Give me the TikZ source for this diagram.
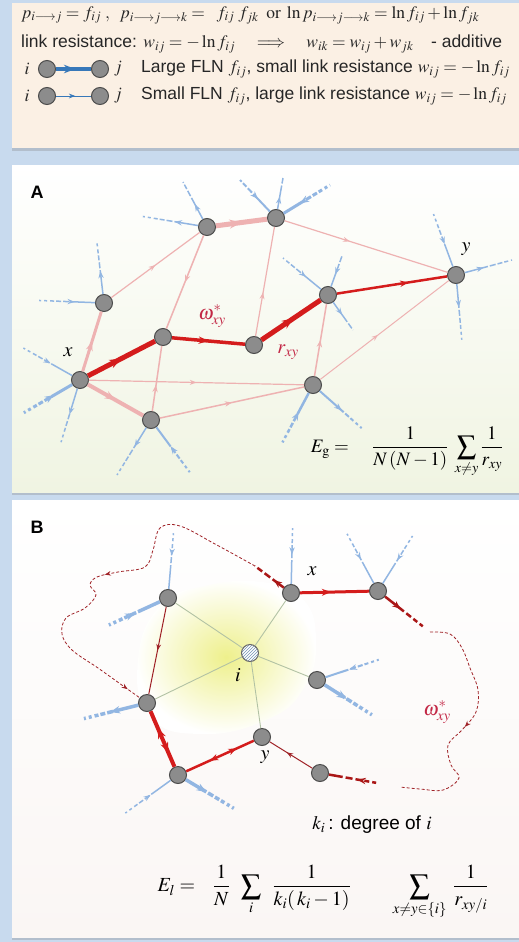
\documentclass[tikz,border=0pt]{standalone}
\usepackage{amsmath}
\usepackage{mathptmx}
\usepackage[no-math]{fontspec}
\setmainfont{Liberation Sans}
\usetikzlibrary{arrows.meta, decorations.markings, patterns, shadows}

\definecolor{bgblue}{RGB}{200,218,238}
\definecolor{peach}{RGB}{251,240,228}
\definecolor{pathred}{RGB}{212,28,28}
\definecolor{pinkedge}{RGB}{238,178,178}
\definecolor{stubblue}{RGB}{146,182,226}
\definecolor{darkred}{RGB}{160,35,40}
\definecolor{labelred}{RGB}{195,40,70}
\definecolor{spoke}{RGB}{178,194,164}
\definecolor{legblue}{RGB}{55,120,185}
\definecolor{blob}{RGB}{238,240,140}

\begin{document}
\begin{tikzpicture}[
      x=1pt, y=-1pt,
      area/.style={drop shadow={shadow xshift=0pt, shadow yshift=-2.5pt, opacity=.3}},
      vert/.style={circle, draw=black!70, fill=black!45, line width=1pt, minimum size=17pt, inner sep=0pt},
      hub/.style={circle, draw=black!60, line width=1pt, minimum size=17pt, inner sep=0pt, preaction={fill=white}, pattern=north east lines, pattern color=stubblue!80!black},
      lbl/.style={font=\fontsize{17.5}{19}\selectfont, inner sep=0pt, text=black!85},
      tag/.style={font=\fontsize{20}{22}\selectfont, inner sep=0pt},
      formula/.style={font=\fontsize{19}{21}\selectfont, inner sep=0pt},
      panel/.style={font=\bfseries\fontsize{18}{20}\selectfont},
      arr/.style={postaction={decorate, decoration={markings, mark=at position #1 with {\arrow{Stealth[length=5pt 1.4]}}}}},
      arr/.default=0.5,
      rarr/.style={postaction={decorate, decoration={markings, mark=at position #1 with {\arrowreversed{Stealth[length=5pt 1.4]}}}}},
      rarr/.default=0.5,
      link/.style={pinkedge, line width=#1},
      short/.style={stubblue, line width=#1, dash pattern=on 24pt off 2pt on 6pt off 2pt on 5pt off 2pt on 4pt off 3pt on 3pt off 3pt on 2pt off 40pt},
      fadeline/.style={line width=#1, dash pattern=on 14pt off 3pt on 7pt off 3pt on 6pt off 3pt on 5pt off 3pt on 4pt off 40pt},
      wavy/.style={darkred, line width=0.8pt, dash pattern=on 3pt off 2pt}
    ]

    \fill[bgblue] (0,0) rectangle (519,942);
    \path[area, fill=peach] (12,3) rectangle (519,148);
    \path[area, top color=white, bottom color={rgb,255:red,240;green,244;blue,226}] (12,165) rectangle (519,492);
    \path[area, top color=white, bottom color={rgb,255:red,250;green,246;blue,244}] (12,500) rectangle (519,937);

    % legend
    \node[lbl, anchor=west] (eq1) at (21,15) {$p_{i\longrightarrow j}=f_{ij}\;,\;\;p_{i\longrightarrow j\longrightarrow k}=\;\;f_{ij}\;f_{jk}\;\;\mathrm{or}\;\ln p_{i\longrightarrow j\longrightarrow k}=\ln f_{ij}+\ln f_{jk}$};
    \node[lbl, anchor=west] (eq2) at (21,44) {link resistance: $w_{ij}=-\ln f_{ij}\quad\Longrightarrow\quad w_{ik}=w_{ij}+w_{jk}$\quad - additive};
    \node[lbl] (li1) at (27,69) {$i$};
    \node[vert] (la1) at (47,69) {};
    \node[vert] (lb1) at (100,69) {};
    \node[lbl] (lj1) at (118,69) {$j$};
    \draw[legblue, line width=4.5pt, arr=0.55] (la1) -- (lb1);
    \node[lbl, anchor=west] (ltxt1) at (141,69) {Large FLN $f_{ij}$, small link resistance $w_{ij}=-\ln f_{ij}$};
    \node[lbl] (li2) at (27,96) {$i$};
    \node[vert] (la2) at (47,96) {};
    \node[vert] (lb2) at (100,96) {};
    \node[lbl] (lj2) at (118,96) {$j$};
    \draw[legblue, line width=1pt, arr=0.55] (la2) -- (lb2);
    \node[lbl, anchor=west] (ltxt2) at (141,96) {Small FLN $f_{ij}$, large link resistance $w_{ij}=-\ln f_{ij}$};

    % panel A
    \node[panel] (labA) at (37,192) {A};
    \node[vert] (xa) at (80,380) {};
    \node[vert] (ya) at (456,275) {};
    \node[vert] (a1) at (207,227) {};
    \node[vert] (a2) at (276,218) {};
    \node[vert] (a3) at (104,303) {};
    \node[vert] (a4) at (163,337) {};
    \node[vert] (a5) at (254,345) {};
    \node[vert] (a6) at (328,295) {};
    \node[vert] (a7) at (313,385) {};
    \node[vert] (a8) at (151,420) {};

    \draw[link=3, arr] (xa) -- (a3);
    \draw[link=1.2, arr] (a3) -- (a1);
    \draw[link=5, arr] (a1) -- (a2);
    \draw[link=1.2, arr=0.4] (a2) -- (ya);
    \draw[link=1.5, arr] (a1) -- (a4);
    \draw[link=1.5, arr=0.4] (a8) -- (a4);
    \draw[link=1.2, arr=0.4] (a5) -- (a2);
    \draw[link=1.2, arr] (xa) -- (a7);
    \draw[link=4, arr] (xa) -- (a8);
    \draw[link=1.5, arr] (a8) -- (a7);
    \draw[link=1.5, arr] (a7) -- (a6);
    \draw[link=1, arr=0.45] (a7) -- (ya);

    \draw[pathred, line width=5pt, arr=0.5] (xa) -- (a4);
    \draw[pathred, line width=3.5pt, arr=0.5] (a4) -- (a5);
    \draw[pathred, line width=5pt, arr=0.55] (a5) -- (a6);
    \draw[pathred, line width=2.5pt, arr=0.65] (a6) -- (ya);

    \coordinate (sa1) at (140,216);
    \coordinate (sa2) at (183,182);
    \coordinate (sa3) at (240,180);
    \coordinate (sa4) at (283,178);
    \coordinate (sa5) at (330,185);
    \coordinate (sa6) at (97,243);
    \coordinate (sa7) at (27,300);
    \coordinate (sa8) at (18,345);
    \coordinate (sa9) at (20,415);
    \coordinate (sa10) at (55,462);
    \coordinate (sa11) at (117,475);
    \coordinate (sa12) at (197,482);
    \coordinate (sa13) at (280,447);
    \coordinate (sa14) at (375,440);
    \coordinate (sa15) at (283,258);
    \coordinate (sa16) at (342,256);
    \coordinate (sa17) at (353,330);
    \coordinate (sa18) at (432,210);
    \coordinate (sa19) at (512,260);
    \coordinate (sa20) at (462,342);
    \draw[short=1.5, arr=0.4] (a1) -- (sa1);
    \draw[short=1.5, arr=0.4] (a1) -- (sa2);
    \draw[short=2, rarr=0.4] (a2) -- (sa3);
    \draw[short=1.5, arr=0.4] (a2) -- (sa4);
    \draw[short=3, rarr=0.35] (a2) -- (sa5);
    \draw[short=1.5, arr=0.45] (a3) -- (sa6);
    \draw[short=1.5, rarr=0.3] (a3) -- (sa7);
    \draw[short=1.5, rarr=0.4] (xa) -- (sa8);
    \draw[short=3, rarr=0.35] (xa) -- (sa9);
    \draw[short=1.5, arr=0.35] (xa) -- (sa10);
    \draw[short=1.5, arr=0.4] (a8) -- (sa11);
    \draw[short=2, rarr=0.35] (a8) -- (sa12);
    \draw[short=2.5, rarr=0.35] (a7) -- (sa13);
    \draw[short=2, arr=0.4] (a7) -- (sa14);
    \draw[short=1.5, rarr=0.4] (a6) -- (sa15);
    \draw[short=1.5, rarr=0.4] (a6) -- (sa16);
    \draw[short=1.5, arr=0.45] (a6) -- (sa17);
    \draw[short=1.5, rarr=0.4] (ya) -- (sa18);
    \draw[short=1.5, arr=0.4] (ya) -- (sa19);
    \draw[short=1.5, arr=0.4] (ya) -- (sa20);

    \node[tag] (xlab) at (68,352) {$x$};
    \node[tag] (ylab) at (466,249) {$y$};
    \node[tag, labelred] (wlab) at (212,316) {$\omega^{*}_{xy}$};
    \node[tag, labelred] (rlab) at (288,352) {$r_{xy}$};
    \node[formula] (eg) at (407,452) {$E_{\mathrm{g}}=\quad\dfrac{1}{N\,(N-1)}\;\displaystyle\sum_{x\neq y}\dfrac{1}{r_{xy}}$};

    % panel B
    \node[panel] (labB) at (37,527) {B};
    \shade[inner color=blob, outer color=white] plot[smooth cycle, tension=0.8] coordinates {(160,606) (205,586) (262,582) (302,598) (316,640) (304,688) (266,720) (200,734) (150,716) (138,660)};
    \node[vert] (tl) at (168,598) {};
    \node[vert] (xb) at (291,593) {};
    \node[vert] (fr) at (378,591) {};
    \node[hub] (ib) at (250,653) {};
    \node[vert] (rt) at (317,680) {};
    \node[vert] (lf) at (147,703) {};
    \node[vert] (yb) at (262,737) {};
    \node[vert] (bl) at (178,775) {};
    \node[vert] (br) at (320,773) {};

    \draw[spoke, line width=0.9pt] (ib) -- (tl);
    \draw[spoke, line width=0.9pt] (ib) -- (xb);
    \draw[spoke, line width=0.9pt] (ib) -- (rt);
    \draw[spoke, line width=0.9pt] (ib) -- (yb);
    \draw[spoke, line width=0.9pt] (ib) -- (lf);

    \draw[darkred, line width=1pt, arr] (tl) -- (lf);
    \draw[pathred, line width=4pt, rarr=0.3, arr=0.75] (lf) -- (bl);
    \draw[pathred, line width=2.5pt, rarr=0.35, arr=0.75] (bl) -- (yb);
    \draw[darkred, line width=1pt, arr=0.6] (br) -- (yb);
    \draw[pathred, line width=3pt, arr=0.45] (xb) -- (fr);

    \coordinate (wl) at (255,566);
    \coordinate (wr) at (430,632);
    \coordinate (wb) at (400,787);
    \draw[pathred!80!black, fadeline=2.5, arr=0.35] (xb) -- (wl);
    \draw[pathred!80!black, fadeline=2.5, arr=0.35] (fr) -- (wr);
    \draw[pathred!80!black, fadeline=2.5, rarr=0.4] (br) -- (wb);
    \draw[wavy, arr=0.5, arr=0.96] plot[smooth, tension=0.6] coordinates {(wl) (215,544) (180,526) (160,528) (153,550) (145,567) (118,572) (97,577) (90,585) (96,595) (85,608) (66,618) (62,634) (72,650) (98,668) (126,688) (140,698)};
    \draw[wavy, arr=0.5] plot[smooth, tension=0.6] coordinates {(wr) (450,634) (462,648) (470,668) (478,690) (476,712) (462,730) (448,745) (451,765) (459,778) (443,790) (420,789) (wb)};

    \coordinate (sb1) at (175,515);
    \coordinate (sb2) at (98,630);
    \coordinate (sb3) at (293,510);
    \coordinate (sb4) at (345,530);
    \coordinate (sb5) at (415,532);
    \coordinate (sb6) at (393,655);
    \coordinate (sb7) at (388,725);
    \coordinate (sb8) at (58,725);
    \coordinate (sb9) at (113,822);
    \coordinate (sb10) at (245,815);
    \draw[short=1.5, rarr=0.45] (tl) -- (sb1);
    \draw[short=3.5, rarr=0.4] (tl) -- (sb2);
    \draw[short=1.5, rarr=0.4] (xb) -- (sb3);
    \draw[short=1.5, rarr=0.45] (fr) -- (sb4);
    \draw[short=1.5, rarr=0.45] (fr) -- (sb5);
    \draw[short=2, rarr=0.35] (rt) -- (sb6);
    \draw[short=3.5, arr=0.35] (rt) -- (sb7);
    \draw[short=3.5, arr=0.35] (lf) -- (sb8);
    \draw[short=1.5, rarr=0.35] (bl) -- (sb9);
    \draw[short=3.5, arr=0.35] (bl) -- (sb10);

    \node[tag] (xblab) at (312,571) {$x$};
    \node[tag] (iblab) at (238,675) {$i$};
    \node[tag] (yblab) at (265,757) {$y$};
    \node[tag, labelred] (wblab) at (437,712) {$\omega^{*}_{xy}$};
    \node[formula] (deg) at (372,825) {$k_i$\,: degree of $i$};
    \node[formula, font=\fontsize{20}{22}\selectfont] (el) at (323,892) {$E_l=\;\;\;\dfrac{1}{N}\;\;\displaystyle\sum_{i}\;\;\dfrac{1}{k_i(\,k_i-1)}\qquad\sum_{x\neq y\in\{i\}}\;\dfrac{1}{r_{xy/i}}$};
  \end{tikzpicture}
\end{document}
